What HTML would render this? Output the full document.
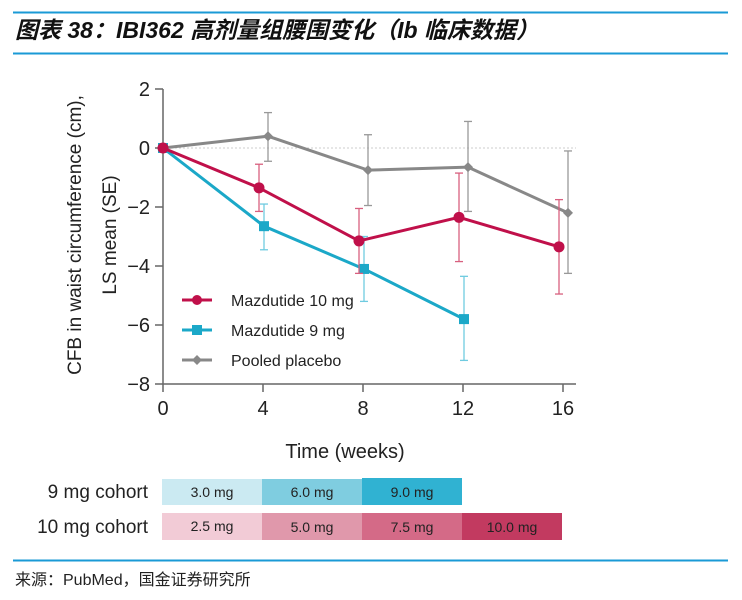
<!DOCTYPE html>
<html><head><meta charset="utf-8"><style>
body{margin:0;background:#fff;width:742px;height:595px;overflow:hidden;font-family:"Liberation Sans","Noto Sans CJK SC",sans-serif}
svg text{font-family:"Liberation Sans","Noto Sans CJK SC",sans-serif}
</style></head><body>
<svg width="742" height="595" xmlns="http://www.w3.org/2000/svg" font-family="'Liberation Sans','Noto Sans CJK SC',sans-serif">
<line x1="13" y1="12.5" x2="728" y2="12.5" stroke="#1a9ad6" stroke-width="2"/>
<text x="15" y="38" font-size="23" font-style="italic" font-weight="bold" fill="#111">图表 38：IBI362 高剂量组腰围变化（Ib 临床数据）</text>
<line x1="13" y1="53.5" x2="728" y2="53.5" stroke="#1a9ad6" stroke-width="2"/>
<g id="plot"></g>
<text transform="translate(81,235) rotate(-90)" text-anchor="middle" font-size="19" fill="#222">CFB in waist circumference (cm),</text>
<text transform="translate(116,235) rotate(-90)" text-anchor="middle" font-size="19" fill="#222">LS mean (SE)</text>
<text x="345" y="458" text-anchor="middle" font-size="20" fill="#222">Time  (weeks)</text>
<g>
<g><line x1="182" y1="300" x2="212" y2="300" stroke="#c0104a" stroke-width="3"/><circle cx="197" cy="300" r="5" fill="#c0104a"/><text x="231" y="306" font-size="16" fill="#222">Mazdutide 10 mg</text></g>
<g><line x1="182" y1="330" x2="212" y2="330" stroke="#1ba8c8" stroke-width="3"/><rect x="192" y="325" width="10" height="10" fill="#1ba8c8"/><text x="231" y="336" font-size="16" fill="#222">Mazdutide 9 mg</text></g>
<g><line x1="182" y1="360" x2="212" y2="360" stroke="#888" stroke-width="3"/><path d="M197 355 L202 360 L197 365 L192 360Z" fill="#888"/><text x="231" y="366" font-size="16" fill="#222">Pooled placebo</text></g>
</g>
<g>
<text x="148" y="498" text-anchor="end" font-size="19" fill="#222">9 mg cohort</text>
<text x="148" y="533" text-anchor="end" font-size="19" fill="#222">10 mg cohort</text>
<rect x="162" y="479" width="100" height="26" fill="#cbeaf2"/>
<rect x="262" y="479" width="100" height="26" fill="#7fcde0"/>
<rect x="362" y="478" width="100" height="27" fill="#30b2d2"/>
<text x="212" y="497" text-anchor="middle" font-size="14" fill="#222">3.0 mg</text>
<text x="312" y="497" text-anchor="middle" font-size="14" fill="#222">6.0 mg</text>
<text x="412" y="497" text-anchor="middle" font-size="14" fill="#222">9.0 mg</text>
<rect x="162" y="513" width="100" height="27" fill="#f2cbd6"/>
<rect x="262" y="513" width="100" height="27" fill="#e098ab"/>
<rect x="362" y="513" width="100" height="27" fill="#d46a87"/>
<rect x="462" y="513" width="100" height="27" fill="#c23a60"/>
<text x="212" y="531" text-anchor="middle" font-size="14" fill="#222">2.5 mg</text>
<text x="312" y="532" text-anchor="middle" font-size="14" fill="#222">5.0 mg</text>
<text x="412" y="532" text-anchor="middle" font-size="14" fill="#222">7.5 mg</text>
<text x="512" y="532" text-anchor="middle" font-size="14" fill="#222">10.0 mg</text>
</g>
<line x1="13" y1="560.5" x2="728" y2="560.5" stroke="#1a9ad6" stroke-width="2"/>
<text x="15" y="585" font-size="16" fill="#222">来源：PubMed，国金证券研究所</text>
</svg>
<script>
const weeks=[0,4,8,12,16];
const yTicks=[2,0,-2,-4,-6,-8];
const xTicks=[0,4,8,12,16];
const red=[0,-1.35,-3.15,-2.35,-3.35];
const redHi=[0,-0.55,-2.05,-0.85,-1.75];
const redLo=[0,-2.15,-4.25,-3.85,-4.95];
const cyanWeeks=[0,4,8,12];
const cyan=[0,-2.65,-4.1,-5.8];
const cyanHi=[0,-1.9,-3.0,-4.35];
const cyanLo=[0,-3.45,-5.2,-7.2];
const gray=[0,0.4,-0.75,-0.65,-2.2];
const grayHi=[0,1.2,0.45,0.9,-0.1];
const grayLo=[0,-0.45,-1.95,-2.15,-4.25];
const NS='http://www.w3.org/2000/svg';
const X=w=>163+w*25, Y=v=>148-v*29.5;
const g=document.getElementById('plot');
function mk(t,a,p){const e=document.createElementNS(NS,t);for(const k in a)e.setAttribute(k,a[k]);(p||g).appendChild(e);return e;}
let ax=mk('line',{x1:163,y1:Y(2),x2:163,y2:Y(-8),stroke:'#666','stroke-width':1.5});


let bx=mk('line',{x1:163,y1:Y(-8),x2:576,y2:Y(-8),stroke:'#666','stroke-width':1.5});


let zl=mk('line',{x1:163,y1:Y(0),x2:576,y2:Y(0),stroke:'#ccc','stroke-width':1,'stroke-dasharray':'2,2'});


yTicks.forEach(v=>{mk('line',{x1:155,y1:Y(v),x2:163,y2:Y(v),stroke:'#666','stroke-width':1.5});
const t=mk('text',{x:150,y:Y(v)+7,'text-anchor':'end','font-size':20,fill:'#222'});t.textContent=(v<0?'−':'')+Math.abs(v);

});
xTicks.forEach(v=>{mk('line',{x1:X(v),y1:Y(-8),x2:X(v),y2:Y(-8)+8,stroke:'#666','stroke-width':1.5});
const t=mk('text',{x:X(v),y:Y(-8)+31,'text-anchor':'middle','font-size':20,fill:'#222'});t.textContent=v;

});
function series(ws,vals,hi,lo,off,col,ecol,marker,name){
const s=mk('g',{});


ws.forEach((w,i)=>{if(i===0)return;const x=X(w)+off;
mk('line',{x1:x,y1:Y(hi[i]),x2:x,y2:Y(lo[i]),stroke:ecol,'stroke-width':1.3},s);
mk('line',{x1:x-4,y1:Y(hi[i]),x2:x+4,y2:Y(hi[i]),stroke:ecol,'stroke-width':1.3},s);
mk('line',{x1:x-4,y1:Y(lo[i]),x2:x+4,y2:Y(lo[i]),stroke:ecol,'stroke-width':1.3},s);});
mk('polyline',{points:ws.map((w,i)=>(X(w)+(i?off:0))+','+Y(vals[i])).join(' '),fill:'none',stroke:col,'stroke-width':3},s);
ws.forEach((w,i)=>{const x=X(w)+(i?off:0),y=Y(vals[i]);let m;
if(marker==='c')m=mk('circle',{cx:x,cy:y,r:5.5,fill:col},s);
else if(marker==='s')m=mk('rect',{x:x-5,y:y-5,width:10,height:10,fill:col},s);
else m=mk('path',{d:`M${x} ${y-5}L${x+5} ${y}L${x} ${y+5}L${x-5} ${y}Z`,fill:col},s);

});}
series(weeks,gray,grayHi,grayLo,5,'#888','#999','d','series-pooled-placebo');
series(cyanWeeks,cyan,cyanHi,cyanLo,1,'#1ba8c8','#6fcbe0','s','series-mazdutide-9mg');
series(weeks,red,redHi,redLo,-4,'#c0104a','#d8607f','c','series-mazdutide-10mg');
</script>
</body></html>
